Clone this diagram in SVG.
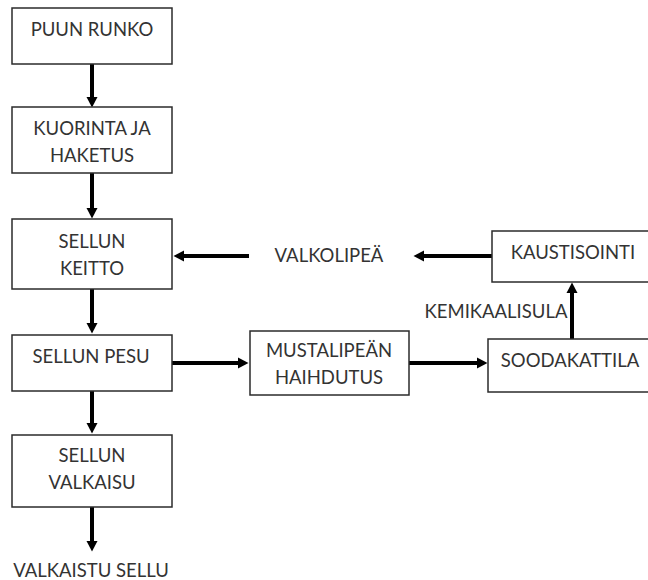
<svg xmlns="http://www.w3.org/2000/svg" width="648" height="580" viewBox="0 0 648 580">
  <style>
    .box { fill: #ffffff; stroke: #2b2b2b; stroke-width: 1.5; }
    .lbl { font-family: "Lato", "Liberation Sans", sans-serif; font-size: 18.5px; fill: #333333; text-anchor: middle; }
    .flow { fill: none; stroke: #000000; stroke-width: 4; }
  </style>
  <defs>
    <marker id="head" markerUnits="userSpaceOnUse" markerWidth="11" markerHeight="12" refX="0" refY="6" orient="auto">
      <path d="M0,0.5 L10.5,6 L0,11.5 z" fill="#000000"/>
    </marker>
  </defs>
  <rect width="648" height="580" fill="#ffffff"/>

  <g id="connectors">
    <path class="flow" d="M92,64 V97" marker-end="url(#head)"/>
    <path class="flow" d="M92,173 V208" marker-end="url(#head)"/>
    <path class="flow" d="M92,289 V323" marker-end="url(#head)"/>
    <path class="flow" d="M92,391 V423" marker-end="url(#head)"/>
    <path class="flow" d="M92,507 V541" marker-end="url(#head)"/>
    <path class="flow" d="M249,256 H184" marker-end="url(#head)"/>
    <path class="flow" d="M492,256 H424" marker-end="url(#head)"/>
    <path class="flow" d="M172,363 H238" marker-end="url(#head)"/>
    <path class="flow" d="M409,363 H477" marker-end="url(#head)"/>
    <path class="flow" d="M572,339 V293" marker-end="url(#head)"/>
  </g>

  <g id="puun-runko">
    <rect class="box" x="12" y="8" width="160" height="56"/>
    <text class="lbl" x="92" y="36">PUUN RUNKO</text>
  </g>
  <g id="kuorinta">
    <rect class="box" x="12" y="107" width="160" height="66"/>
    <text class="lbl" x="92" y="135">KUORINTA JA</text>
    <text class="lbl" x="92" y="162">HAKETUS</text>
  </g>
  <g id="keitto">
    <rect class="box" x="12" y="219" width="160" height="70"/>
    <text class="lbl" x="92" y="248">SELLUN</text>
    <text class="lbl" x="92" y="275">KEITTO</text>
  </g>
  <g id="pesu">
    <rect class="box" x="12" y="335" width="160" height="56"/>
    <text class="lbl" x="91" y="363">SELLUN PESU</text>
  </g>
  <g id="valkaisu">
    <rect class="box" x="12" y="435" width="160" height="72"/>
    <text class="lbl" x="92" y="462">SELLUN</text>
    <text class="lbl" x="92" y="489">VALKAISU</text>
  </g>
  <g id="valkaistu-sellu">
    <text class="lbl" x="91" y="577">VALKAISTU SELLU</text>
  </g>
  <g id="valkolipea">
    <text class="lbl" x="329" y="262">VALKOLIPEÄ</text>
  </g>
  <g id="haihdutus">
    <rect class="box" x="250" y="331" width="159" height="64"/>
    <text class="lbl" x="329" y="357">MUSTALIPEÄN</text>
    <text class="lbl" x="329" y="384">HAIHDUTUS</text>
  </g>
  <g id="kaustisointi">
    <rect class="box" x="492" y="231" width="170" height="51"/>
    <text class="lbl" x="573" y="259">KAUSTISOINTI</text>
  </g>
  <g id="kemikaalisula">
    <text class="lbl" x="496" y="318">KEMIKAALISULA</text>
  </g>
  <g id="soodakattila">
    <rect class="box" x="488" y="339" width="174" height="53"/>
    <text class="lbl" x="570" y="367">SOODAKATTILA</text>
  </g>
</svg>
